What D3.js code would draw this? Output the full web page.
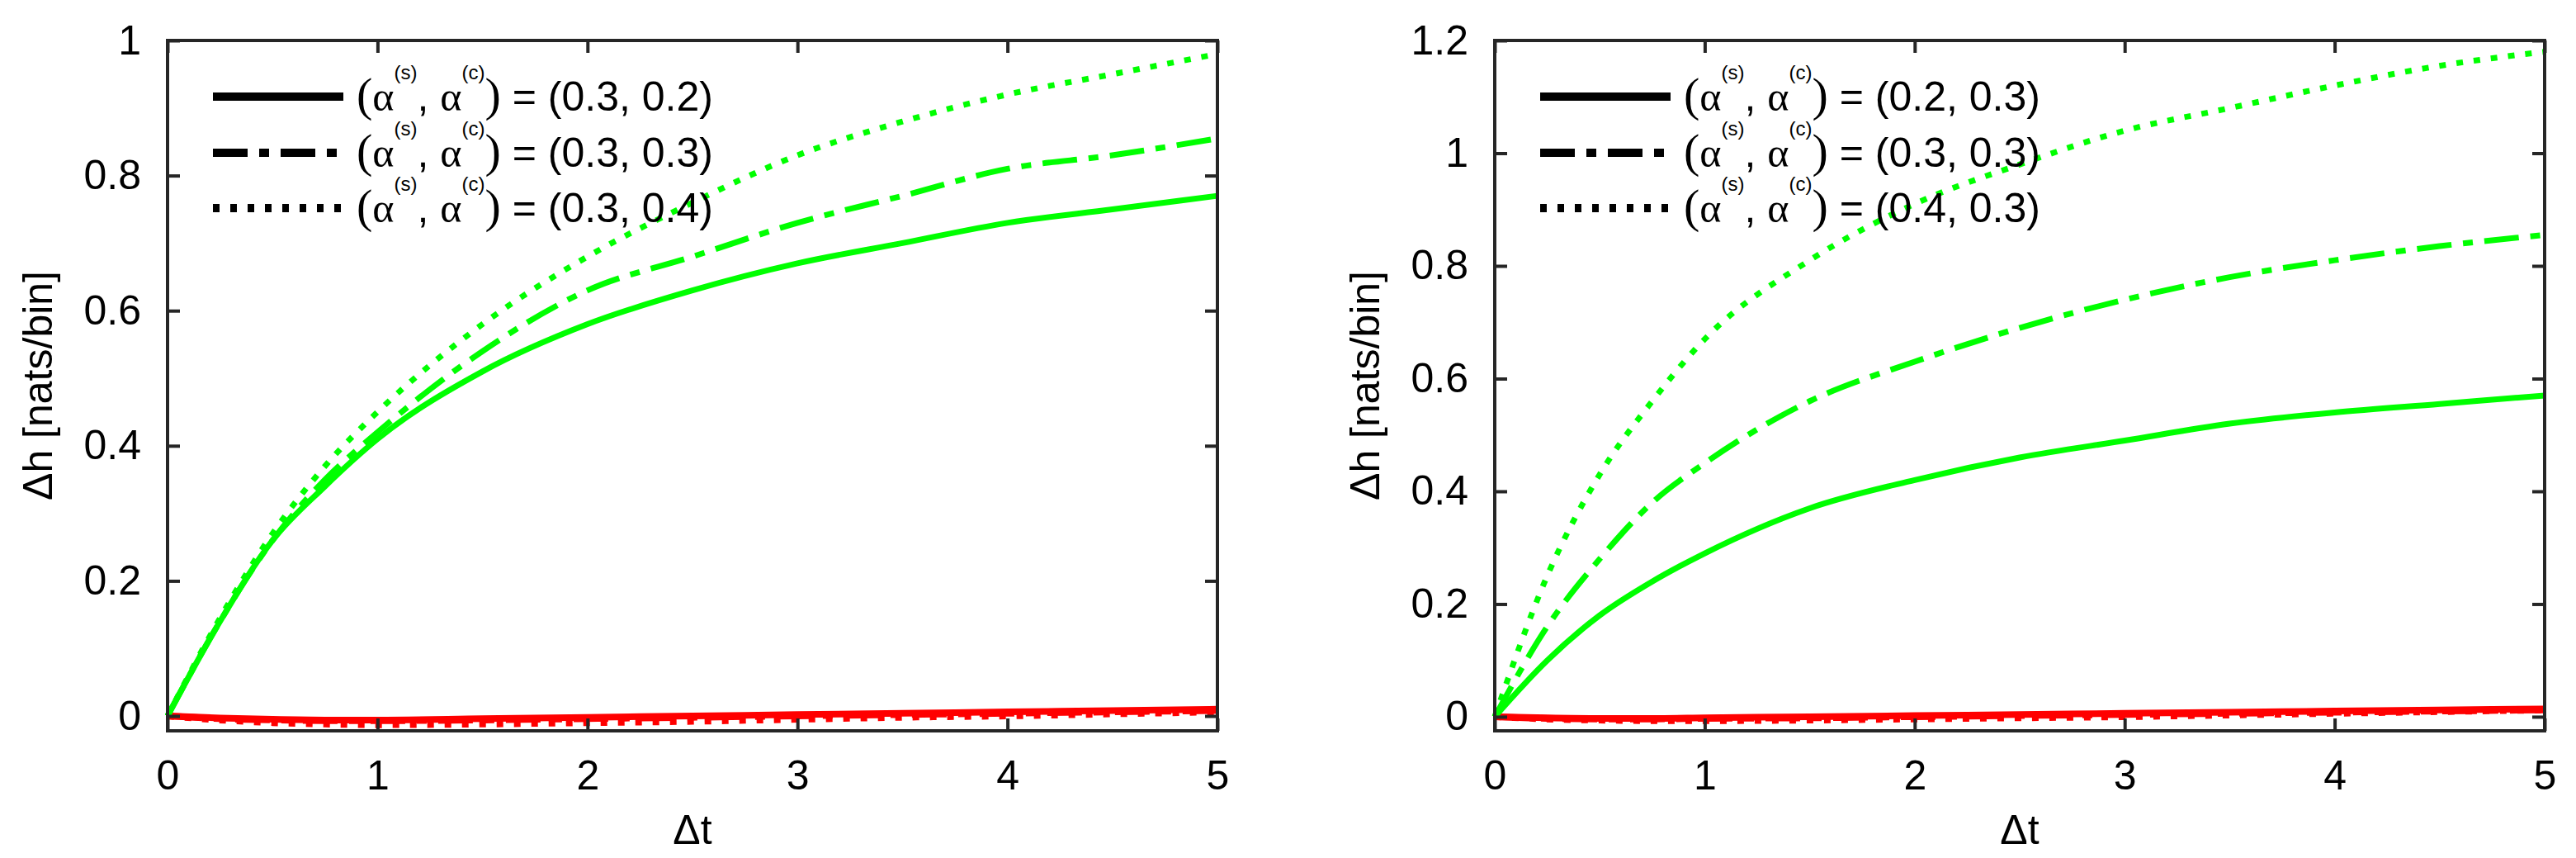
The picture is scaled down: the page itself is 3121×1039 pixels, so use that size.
<!DOCTYPE html>
<html><head><meta charset="utf-8">
<script src="https://cdn.jsdelivr.net/npm/d3@7"></script>
<style>body{margin:0;background:#fff}</style>
</head><body>
<svg id="c" width="3121" height="1039"></svg>
<script>
const tValues = [0,0.25,0.5,0.75,1,1.5,2,2.5,3,3.5,4,4.5,5];
// Left panel (green = growth, red = near zero)
const leftGreenSolid   = [0,0.14,0.26,0.34,0.41,0.51,0.58,0.63,0.67,0.70,0.73,0.75,0.77];
const leftGreenDashDot = [0,0.14,0.26,0.35,0.42,0.54,0.63,0.68,0.73,0.77,0.81,0.83,0.855];
const leftGreenDotted  = [0,0.145,0.27,0.37,0.45,0.58,0.68,0.76,0.83,0.88,0.92,0.95,0.98];
const leftRedSolid     = [0,-0.003,-0.005,-0.006,-0.006,-0.004,-0.002,0,0.002,0.004,0.006,0.008,0.01];
const leftRedDashDot   = [0,-0.004,-0.006,-0.007,-0.007,-0.006,-0.004,-0.002,0,0.002,0.004,0.006,0.008];
const leftRedDotted    = [0,-0.006,-0.01,-0.012,-0.013,-0.012,-0.01,-0.008,-0.005,-0.002,0,0.003,0.006];
// Right panel
const rightGreenSolid   = [0,0.10,0.18,0.24,0.29,0.37,0.42,0.46,0.49,0.52,0.54,0.555,0.57];
const rightGreenDashDot = [0,0.16,0.28,0.38,0.45,0.56,0.63,0.69,0.74,0.78,0.81,0.835,0.855];
const rightGreenDotted  = [0,0.25,0.43,0.56,0.67,0.81,0.91,0.98,1.04,1.08,1.12,1.155,1.18];
const rightRedSolid     = [0,-0.002,-0.003,-0.003,-0.002,0,0.002,0.004,0.006,0.008,0.01,0.012,0.014];
const rightRedDashDot   = [0,-0.003,-0.004,-0.004,-0.003,-0.002,0,0.002,0.004,0.006,0.008,0.01,0.012];
const rightRedDotted    = [0,-0.004,-0.006,-0.007,-0.007,-0.006,-0.004,-0.002,0,0.003,0.006,0.009,0.012];
const xTicks = [0,1,2,3,4,5];
const leftYTicks = [0,0.2,0.4,0.6,0.8,1];
const rightYTicks = [0,0.2,0.4,0.6,0.8,1,1.2];
const leftLegend = ["(0.3, 0.2)","(0.3, 0.3)","(0.3, 0.4)"];
const rightLegend = ["(0.2, 0.3)","(0.3, 0.3)","(0.4, 0.3)"];

const svg = d3.select("#c");
const styles = [null,"42,14,12,14","8,13"];
const FONT = "'Liberation Sans', Arial, sans-serif";

function panel(x0, x1, ydom, yTicks, greens, reds, legend){
  const top=49, bottom=885;
  const x = d3.scaleLinear().domain([0,5]).range([x0,x1]);
  const y = d3.scaleLinear().domain(ydom).range([bottom,top]);
  const g = svg.append("g");
  const line = d3.line().x((d,i)=>x(tValues[i])).y(d=>y(d)).curve(d3.curveMonotoneX);
  reds.forEach((s,k)=>g.append("path").attr("d",line(s)).attr("fill","none")
    .attr("stroke","#ff0000").attr("stroke-width",8).attr("stroke-dasharray",styles[k]));
  greens.forEach((s,k)=>g.append("path").attr("d",line(s)).attr("fill","none")
    .attr("stroke","#00ff00").attr("stroke-width",7).attr("stroke-dasharray",styles[k]));
  // frame
  g.append("rect").attr("x",x0).attr("y",top).attr("width",x1-x0).attr("height",bottom-top)
    .attr("fill","none").attr("stroke","#262626").attr("stroke-width",4);
  // axes with inward ticks
  const ax = d3.axisBottom(x).tickValues(xTicks).tickSize(-15).tickPadding(35).tickFormat(d3.format("d"));
  const axT = d3.axisTop(x).tickValues(xTicks).tickSize(-15).tickFormat("");
  const ay = d3.axisLeft(y).tickValues(yTicks).tickSize(-15).tickPadding(32).tickFormat(d=>d3.format("~g")(d));
  const ayR = d3.axisRight(y).tickValues(yTicks).tickSize(-15).tickFormat("");
  [[ax,`translate(0,${bottom})`],[axT,`translate(0,${top})`],[ay,`translate(${x0},0)`],[ayR,`translate(${x1},0)`]]
   .forEach(([a,t])=>{
     const gg=g.append("g").attr("transform",t).call(a);
     gg.select(".domain").remove();
     gg.selectAll("line").attr("stroke","#262626").attr("stroke-width",4);
     gg.selectAll("text").attr("font-family",FONT).attr("font-size",50).attr("fill","#000");
   });
  g.append("text").attr("x",(x0+x1)/2).attr("y",1022).attr("text-anchor","middle")
   .attr("font-family",FONT).attr("font-size",50).text("Δt");
  g.append("text").attr("transform",`translate(${x0-140},${(top+bottom)/2}) rotate(-90)`)
   .attr("text-anchor","middle").attr("font-family",FONT).attr("font-size",50).text("Δh [nats/bin]");
  // legend
  const rows=[117,185,252];
  legend.forEach((lab,k)=>{
    g.append("line").attr("x1",x0+55).attr("x2",x0+213).attr("y1",rows[k]).attr("y2",rows[k])
     .attr("stroke","#000").attr("stroke-width",10).attr("stroke-dasharray",styles[k]);
    const t=g.append("text").attr("x",x0+229).attr("y",rows[k]+17).attr("font-family",FONT).attr("font-size",50);
    t.append("tspan").attr("font-size",58).attr("font-family","'Liberation Serif',serif").text("(");
    t.append("tspan").attr("font-family","'Liberation Serif',serif").text("α");
    t.append("tspan").attr("font-size",24).attr("dy",-38).text("(s)");
    t.append("tspan").attr("dy",38).text(", ");
    t.append("tspan").attr("font-family","'Liberation Serif',serif").text("α");
    t.append("tspan").attr("font-size",24).attr("dy",-38).text("(c)");
    t.append("tspan").attr("dy",38).attr("font-size",58).attr("font-family","'Liberation Serif',serif").text(")");
    t.append("tspan").text(" = "+lab);
  });
}
panel(203,1475,[-0.022,1],leftYTicks,
  [leftGreenSolid,leftGreenDashDot,leftGreenDotted],[leftRedSolid,leftRedDashDot,leftRedDotted],leftLegend);
panel(1811,3083,[-0.025,1.2],rightYTicks,
  [rightGreenSolid,rightGreenDashDot,rightGreenDotted],[rightRedSolid,rightRedDashDot,rightRedDotted],rightLegend);
</script>
</body></html>
